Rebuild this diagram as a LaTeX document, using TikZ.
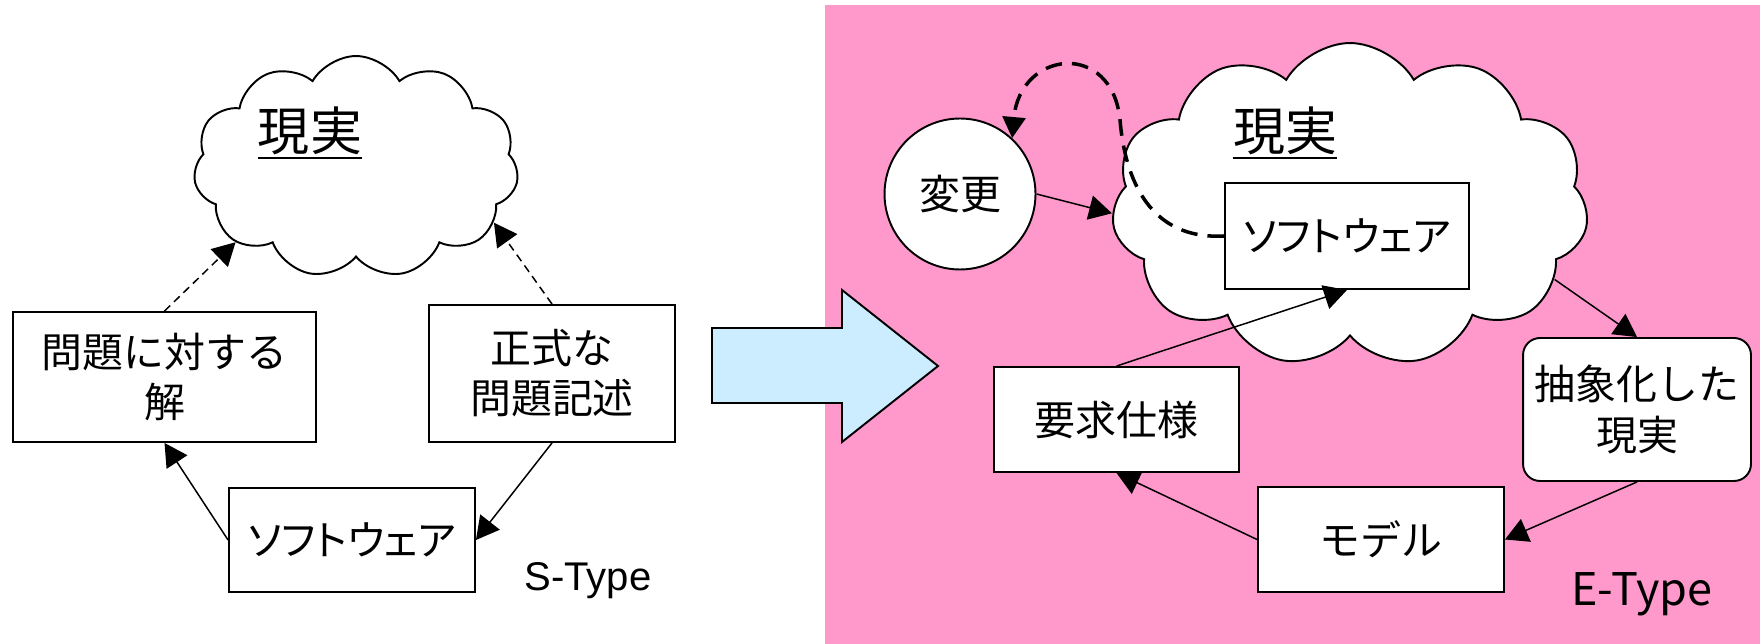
\documentclass[tikz,border=0pt]{standalone}
\usepackage{fontspec}
\setmainfont{Noto Sans CJK JP}
\newfontfamily\kanaprop[RawFeature=+palt]{Noto Sans CJK JP}
\newfontfamily\latinfont{Liberation Sans}
\usetikzlibrary{shapes.symbols, arrows.meta}

\definecolor{bgpink}{RGB}{255,153,204}
\definecolor{arrowblue}{RGB}{204,236,255}

\begin{document}
\begin{tikzpicture}[x=0.02cm, y=-0.02cm,
    box/.style={draw, line width=1.1pt, fill=white, align=center, inner sep=0pt,
        font=\fontsize{23.3}{28.5}\selectfont},
    puffy/.style={cloud, draw, line width=1.1pt, fill=white, cloud puffs=11,
        cloud puff arc=120, inner sep=0pt},
    title/.style={anchor=base, inner sep=0pt, font=\fontsize{29.6}{34}\selectfont},
    conn/.style={line width=0.85pt, -{Triangle[length=13pt,width=14pt]}},
    weak/.style={conn, dash pattern=on 4.5pt off 3pt}]
    % 全体の枠
    \useasboundingbox (0,0) rectangle (1760,644);
    % E-Type の背景
    \fill[bgpink] (825,5) rectangle (1760,644);

    % S-Type: 現実の雲
    \node[puffy, minimum width=6.5cm, minimum height=4.44cm, aspect=1.46] (realL) at (356,167) {};
    \node[title] (realLtxt) at (310,151) {現実};
    \draw[line width=1.1pt] ([yshift=-4pt]realLtxt.base west) -- ([yshift=-4pt]realLtxt.base east);
    % S-Type: 箱
    \node[box, minimum width=6.06cm, minimum height=2.6cm] (solution) at (164.5,377) {問題に対する\\解};
    \node[box, minimum width=4.92cm, minimum height=2.74cm] (formal) at (552,373.5) {正式な\\問題記述};
    \node[box, minimum width=4.92cm, minimum height=2.08cm] (softL) at (352,540) {\kanaprop ソフトウェア};
    % S-Type ラベル
    \node[anchor=base, font=\latinfont\fontsize{22.8}{27}\selectfont] (stype) at (588,590) {S-Type};
    % S-Type: 矢印
    \draw[weak] (solution.north) -- (realL.212);
    \draw[weak] (formal.north) -- (realL.-22);
    \draw[conn] (formal.south) -- (softL.east);
    \draw[conn] (softL.west) -- (solution.south);

    % 中央の大きな矢印
    \draw[line width=1.1pt, fill=arrowblue] (712,328) -- (842,328) -- (842,290) -- (938,366)
        -- (842,442) -- (842,403) -- (712,403) -- cycle;

    % E-Type: 現実の雲
    \node[puffy, minimum width=9.54cm, minimum height=6.48cm, aspect=1.47] (realR) at (1350,205) {};
    \node[title] (realRtxt) at (1285,151) {現実};
    \draw[line width=1.1pt] ([yshift=-4pt]realRtxt.base west) -- ([yshift=-4pt]realRtxt.base east);
    % E-Type: 変更
    \node[circle, draw, line width=1.1pt, fill=white, minimum size=3.02cm, inner sep=0pt,
        font=\fontsize{23.3}{28.5}\selectfont] (change) at (960,194) {変更};
    % E-Type: 箱
    \node[box, minimum width=4.88cm, minimum height=2.12cm] (softR) at (1347,236) {\kanaprop ソフトウェア};
    \node[box, minimum width=4.9cm, minimum height=2.1cm] (spec) at (1116.5,419.5) {要求仕様};
    \node[box, minimum width=4.92cm, minimum height=2.1cm] (model) at (1381,539.5) {モデル};
    \node[box, rounded corners=0.34cm, minimum width=4.56cm, minimum height=2.86cm] (abstract) at (1637,409.5) {抽象化した\\現実};
    % E-Type ラベル
    \node[anchor=base, font=\fontsize{25.6}{30}\selectfont] (etype) at (1642,605) {E-Type};
    % E-Type: 矢印
    \draw[conn] (change.east) -- (realR.182);
    \draw[conn] (realR.-20) -- (abstract.north);
    \draw[conn] (abstract.south) -- (model.east);
    \draw[conn] (model.west) -- (spec.south);
    \draw[conn] (spec.north) -- (softR.south);
    \draw[line width=2pt, dash pattern=on 9.5pt off 5.7pt, -{Triangle[length=12pt,width=13pt]}]
        (softR.west) .. controls (1150,240) and (1125,180) .. (1120,120)
        .. controls (1112,40) and (1020,50) .. (change.47);
\end{tikzpicture}
\end{document}
